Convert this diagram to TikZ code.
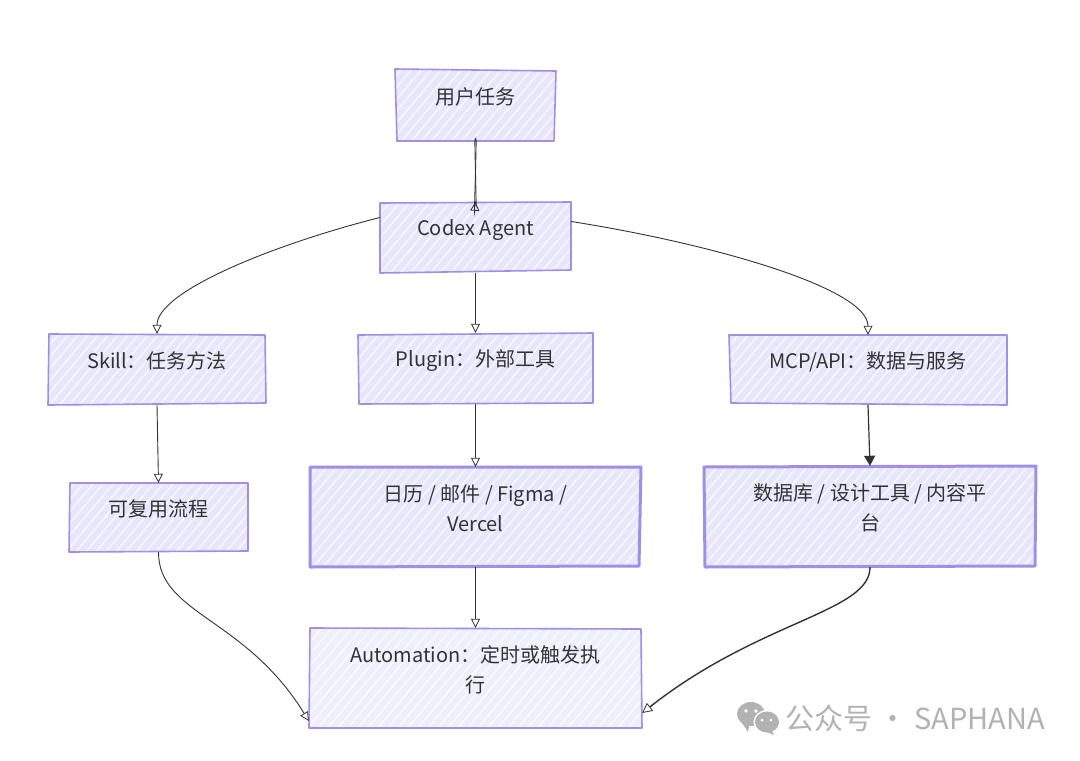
\documentclass[tikz,border=0pt]{standalone}
\usepackage{fontspec}
\setmainfont{Noto Sans CJK SC}
\usetikzlibrary{arrows.meta,calc,fit}
\definecolor{edgepurple}{HTML}{9F8FE6}
\definecolor{boxfill}{HTML}{E8E6FC}
\definecolor{boxlight}{HTML}{EFEEFD}
\definecolor{inkdark}{HTML}{333333}
\definecolor{wmgray}{HTML}{B2B2B2}
\tikzset{
  link/.style={draw=inkdark,line width=0.9pt,-{Triangle[open,length=9pt,width=9pt,line width=0.8pt]}},
  linkfilled/.style={draw=inkdark,line width=1.2pt,-{Triangle[length=10pt,width=11pt]}},
  boxtext/.style={inner sep=0pt,align=center,text=inkdark,font=\fontsize{20}{30}\selectfont},
}
% \skbox[line width]{name}{TL}{TR}{BR}{BL}{fill}{text}
\newcommand{\skbox}[7][1.6pt]{%
  \coordinate (#2-a) at #3; \coordinate (#2-b) at #4;
  \coordinate (#2-c) at #5; \coordinate (#2-d) at #6;
  \fill[#7] #3 -- #4 -- #5 -- #6 -- cycle;
  \begin{scope}
    \clip #3 -- #4 -- #5 -- #6 -- cycle;
    \foreach \k in {-60,...,120} {\draw[white,line width=1.5pt,opacity=.75] (\k*10,761) -- (\k*10+640,0);}
  \end{scope}
  \draw[edgepurple,line width=#1,line join=round] #3 -- #4 -- #5 -- #6 -- cycle;
}
\newcommand{\sklabel}[2]{\node[boxtext,fit=(#1-a)(#1-b)(#1-c)(#1-d)] (#1) {#2};}
\begin{document}
\begin{tikzpicture}[x=1pt,y=-1pt]
\useasboundingbox[fill=white] (0,0) rectangle (1080,761);
\skbox{user}{(395,69)}{(556,71)}{(554,141)}{(397,141)}{boxfill}
\sklabel{user}{用户任务}
\skbox{codex}{(380,203)}{(571,202)}{(571,270)}{(380,273)}{boxfill}
\sklabel{codex}{Codex Agent}
\skbox{skill}{(49,334)}{(265,335)}{(266,403)}{(48,405)}{boxfill}
\sklabel{skill}{Skill：任务方法}
\skbox{plugin}{(358,335)}{(593,333)}{(593,403)}{(359,404)}{boxfill}
\sklabel{plugin}{Plugin：外部工具}
\skbox{mcp}{(729,335)}{(1007,335)}{(1007,405)}{(731,403)}{boxfill}
\sklabel{mcp}{MCP/API：数据与服务}
\skbox{flow}{(70,483)}{(248,483)}{(248,551)}{(69,552)}{boxfill}
\sklabel{flow}{可复用流程}
\skbox[3pt]{tools}{(310,467)}{(641,467)}{(639,566)}{(310,567)}{boxfill}
\sklabel{tools}{日历 / 邮件 / Figma /\\Vercel}
\skbox[3pt]{data}{(704,467)}{(1036,466)}{(1035,566)}{(705,567)}{boxfill}
\sklabel{data}{数据库 / 设计工具 / 内容平\\台}
\skbox{auto}{(310,628)}{(641,629)}{(642,728)}{(309,728)}{boxlight}
\sklabel{auto}{Automation：定时或触发执\\行}

% connectors
\draw[inkdark,line width=0.9pt] (user.south) .. controls ([xshift=-2pt,yshift=20pt]user.south) and ([xshift=2pt,yshift=-25pt]codex.north) .. (codex.north);
\draw[link] (user.south) .. controls ([xshift=2pt,yshift=20pt]user.south) and ([xshift=-2pt,yshift=-25pt]codex.north) .. (codex.north);
\draw[link] (codex.south) -- (plugin.north);
\draw[link] ([yshift=20pt]codex.west) .. controls +(-110,28) and (157,292) .. (skill.north);
\draw[link] ([yshift=16pt]codex.east) .. controls +(140,22) and (868,288) .. (mcp.north);
\draw[link] (skill.south) -- (flow.north);
\draw[link] (plugin.south) -- (tools.north);
\draw[linkfilled] (mcp.south) -- (data.north);
\draw[link] (flow.south) .. controls +(0,62) and (245,617) .. ([yshift=-43pt]auto.west);
\draw[link] (tools.south) -- (auto.north);
\draw[inkdark,line width=1.4pt,-{Triangle[open,length=10pt,width=10pt,line width=0.8pt]}] (data.south) .. controls +(0,45) and (760,620) .. ([yshift=-35pt]auto.east);

% watermark
\fill[wmgray] (751,714) ellipse (14pt and 12pt);
\fill[wmgray] (742,723) -- (748,732) -- (750,722) -- cycle;
\fill[white] (767,722) ellipse (13.5pt and 12pt);
\fill[wmgray] (767,722) ellipse (12pt and 10.5pt);
\fill[wmgray] (771,728) -- (774,735) -- (764,731) -- cycle;
\fill[white] (746,711) circle (1.8pt) (756,711) circle (1.8pt) (762,720) circle (1.5pt) (771,720) circle (1.5pt);
\node[anchor=west,inner sep=0pt,text=wmgray,font=\fontsize{29}{30}\selectfont] (wm) at (785,718) {公众号 · SAPHANA};
\end{tikzpicture}
\end{document}
